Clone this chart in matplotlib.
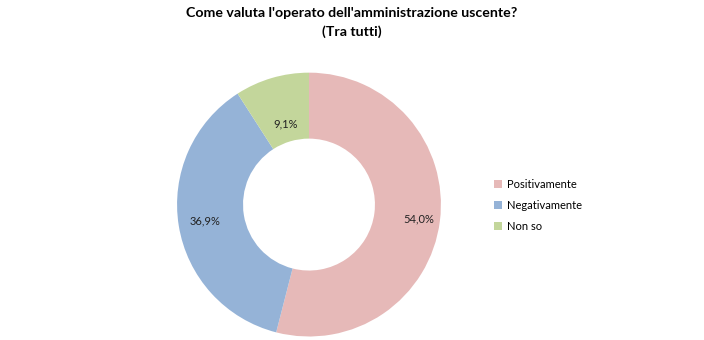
import matplotlib
matplotlib.use("Agg")
import matplotlib.pyplot as plt
from matplotlib.patches import Patch
import numpy as np

# Risposte e percentuali
labels = ["Positivamente", "Negativamente", "Non so"]
values = [54.0, 36.9, 9.1]
colors = ["#E6B9B8", "#95B3D7", "#C3D69B"]

plt.rcParams["font.family"] = ["Lato", "DejaVu Sans"]

fig = plt.figure(figsize=(7.04, 3.40), dpi=100)
fig.patch.set_facecolor("white")

ax = fig.add_axes([0.2514, 0.0103, 0.375, 0.776])
wedges, texts = ax.pie(
    values, colors=colors, startangle=90, counterclock=False,
    radius=1.0, wedgeprops={"width": 0.5, "edgecolor": "none"},
)

# Etichette percentuali nell'anello
label_r = [0.84, 0.8, 0.64]
for w, v, r in zip(wedges, values, label_r):
    ang = np.deg2rad((w.theta1 + w.theta2) / 2)
    ax.text(r * np.cos(ang), r * np.sin(ang), f"{v:.1f}%".replace(".", ","),
            ha="center", va="center", fontsize=8, color="#222222")

ax.set_xlim(-1, 1)
ax.set_ylim(-1, 1)
ax.set_aspect("equal")

fig.text(0.5, 0.962, "Come valuta l'operato dell'amministrazione uscente?",
         ha="center", va="center", fontsize=10.2, fontweight="bold")
fig.text(0.5, 0.908, "(Tra tutti)", ha="center", va="center",
         fontsize=10.2, fontweight="bold")

handles = [Patch(facecolor=c, edgecolor="none") for c in colors]
fig.legend(handles, labels, loc="center left", bbox_to_anchor=(0.688, 0.395),
           frameon=False, fontsize=8, handlelength=0.7, handleheight=0.7,
           handletextpad=0.4, labelspacing=0.9)

fig.savefig("out.png", dpi=100, facecolor="white")
